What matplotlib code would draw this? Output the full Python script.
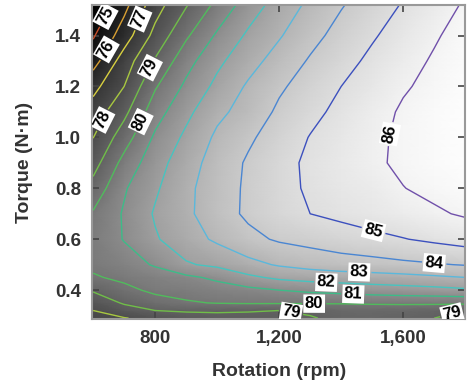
import matplotlib as mpl
import matplotlib.pyplot as plt
import numpy as np

mpl.rcParams['font.family'] = ['Liberation Sans', 'DejaVu Sans']
mpl.rcParams['font.weight'] = 'bold'

# Efficiency map (rpm columns, torque rows, %)
rotation = [600, 700, 800, 900, 1000, 1100, 1200, 1300, 1400, 1500, 1600, 1700, 1800]
torque = [0.29, 0.32, 0.35, 0.40, 0.45, 0.50, 0.60, 0.70, 0.80, 0.90, 1.00, 1.10, 1.20, 1.30, 1.40, 1.52]
efficiency = [
    [77.7, 77.95, 78.3, 78.6, 78.75, 78.8, 78.85, 78.95, 79.15, 79.2, 79.1, 79.0, 78.85],
    [78.0, 78.6, 79.0, 79.1, 79.1, 79.05, 79.0, 79.1, 79.3, 79.35, 79.3, 79.2, 79.0],
    [78.4, 79.1, 79.6, 79.9, 80.05, 80.1, 80.1, 80.1, 80.1, 80.15, 80.2, 80.2, 80.2],
    [79.1, 79.75, 80.2, 80.35, 80.55, 80.75, 81.0, 81.2, 81.35, 81.5, 81.6, 81.7, 81.85],
    [79.9, 80.2, 80.5, 80.8, 81.2, 81.8, 82.2, 82.4, 82.5, 82.6, 82.7, 82.85, 83.0],
    [80.2, 80.55, 81.1, 81.9, 82.2, 82.7, 83.1, 83.35, 83.55, 83.65, 83.8, 83.92, 84.05],
    [80.3, 81.05, 81.9, 82.56, 83.17, 83.74, 84.12, 84.33, 84.55, 84.76, 84.96, 85.18, 85.4],
    [80.1, 81.1, 82.1, 82.8, 83.56, 84.17, 84.64, 85.0, 85.22, 85.44, 85.66, 85.88, 86.1],
    [79.35, 80.9, 81.86, 82.78, 83.52, 84.16, 84.7, 85.13, 85.4, 85.62, 85.98, 86.2, 86.4],
    [78.6, 80.33, 81.6, 82.56, 83.43, 84.12, 84.7, 85.17, 85.5, 85.86, 86.15, 86.35, 86.5],
    [77.98, 79.53, 81.16, 82.2, 83.18, 83.84, 84.46, 85.04, 85.43, 85.82, 86.15, 86.35, 86.5],
    [77.45, 78.74, 80.57, 81.75, 82.77, 83.38, 84.18, 84.74, 85.25, 85.7, 86.1, 86.35, 86.5],
    [76.7, 78.0, 79.9, 81.2, 82.25, 83.13, 83.85, 84.44, 85.0, 85.44, 85.92, 86.2, 86.45],
    [75.6, 77.48, 79.1, 80.63, 81.78, 82.63, 83.4, 84.1, 84.67, 85.2, 85.67, 86.1, 86.4],
    [74.9, 76.5, 78.3, 79.85, 81.14, 82.16, 82.91, 83.69, 84.34, 84.9, 85.41, 85.9, 86.35],
    [74.0, 75.7, 77.57, 78.92, 80.26, 81.48, 82.42, 83.21, 83.93, 84.51, 85.07, 85.58, 86.1],
]

levels = [75, 76, 77, 78, 79, 80, 81, 82, 83, 84, 85, 86]
line_colors = ['#c8502a', '#d9a032', '#d8d040', '#a8c840', '#70be48', '#50bc5c',
               '#3cbc88', '#46c4c0', '#5ab8dc', '#4a86d2', '#3c50be', '#7050aa']

# label spots (rpm, torque) for each level
label_spots = {
    75: [(665, 1.46)],
    76: [(665, 1.33)],
    77: [(760, 1.46)],
    78: [(632, 1.067)],
    79: [(781, 1.275), (1239, 0.32), (1755, 0.32)],
    80: [(745, 1.067), (1313, 0.35)],
    81: [(1439, 0.38)],
    82: [(1352, 0.427)],
    83: [(1458, 0.467)],
    84: [(1700, 0.506)],
    85: [(1503, 0.627)],
    86: [(1535, 1.02)],
}

X, Y = np.meshgrid(rotation, torque)
Z = np.array(efficiency)

fig = plt.figure(figsize=(4.68, 3.85), dpi=100)
ax = fig.add_axes([0.197, 0.171, 0.797, 0.816])

ax.pcolormesh(X, Y, Z, cmap='gray', vmin=74.3, vmax=86.6, shading='gouraud')

for lvl, col in zip(levels, line_colors):
    cs = ax.contour(X, Y, Z, levels=[lvl], colors=[col], linewidths=1.0)
    texts = ax.clabel(cs, manual=label_spots[lvl], inline=True, inline_spacing=3,
                      fontsize=12, fmt='%d', colors='k')
    for t in texts:
        t.set_fontweight('bold')
        t.set_bbox(dict(facecolor='white', edgecolor='none', pad=1.2))

ax.set_xlim(597, 1800)
ax.set_ylim(0.286, 1.52)
ax.set_xticks([800, 1200, 1600])
ax.set_xticks([600, 1000, 1400, 1800], minor=True)
ax.set_xticklabels(['800', '1,200', '1,600'])
ax.set_yticks([0.4, 0.6, 0.8, 1.0, 1.2, 1.4])
ax.set_yticklabels(['0.4', '0.6', '0.8', '1.0', '1.2', '1.4'])

ax.tick_params(which='both', direction='in', top=True, right=True, length=5,
               width=1.2, color='#444444', labelsize=13.5, labelcolor='#333333', pad=8)
ax.tick_params(which='minor', length=0)
for s in ax.spines.values():
    s.set_color('#999999')
    s.set_linewidth(1.5)

ax.set_xlabel('Rotation (rpm)', fontsize=14, fontweight='bold', color='#333333', labelpad=11)
ax.set_ylabel('Torque (N·m)', fontsize=14, fontweight='bold', color='#333333', labelpad=16)

fig.savefig('out.png', dpi=100)
